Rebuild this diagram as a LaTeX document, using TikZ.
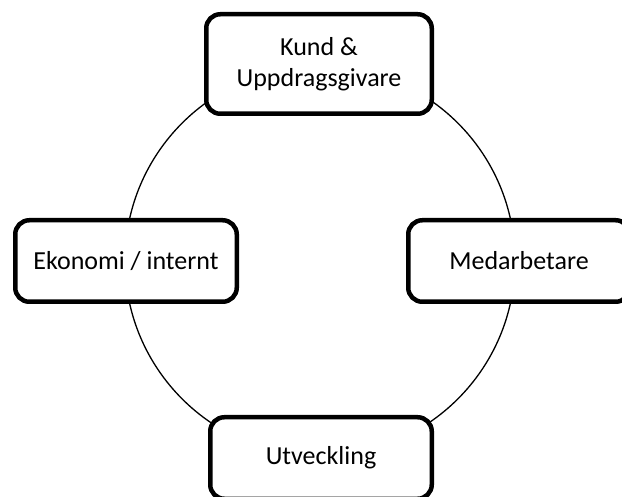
\documentclass[tikz,border=0pt]{standalone}
\usepackage{fontspec}
\setmainfont{Carlito}
\begin{document}
\begin{tikzpicture}[x=1pt,y=-1pt,
  boxnode/.style={draw=black, fill=white, line width=4.5pt, rounded corners=14pt,
    minimum width=221.5pt, minimum height=81.5pt, align=center, inner sep=0pt,
    font=\fontsize{26}{31}\selectfont},
  ring/.style={draw=black, line width=1.3pt}]
\useasboundingbox (0,0) rectangle (622,497);
\clip (0,0) rectangle (622,497);
\coordinate (c) at (320,261);
\draw[ring] (c) circle (195pt);
\node[boxnode, minimum width=225.5pt, minimum height=99.5pt] (kund) at (319,64) {Kund \&\\Uppdragsgivare};
\node[boxnode] (ekonomi) at (126,261) {Ekonomi / internt};
\node[boxnode] (medarb) at (519,261) {Medarbetare};
\node[boxnode] (utv) at (321,458) {Utveckling};
\end{tikzpicture}
\end{document}
